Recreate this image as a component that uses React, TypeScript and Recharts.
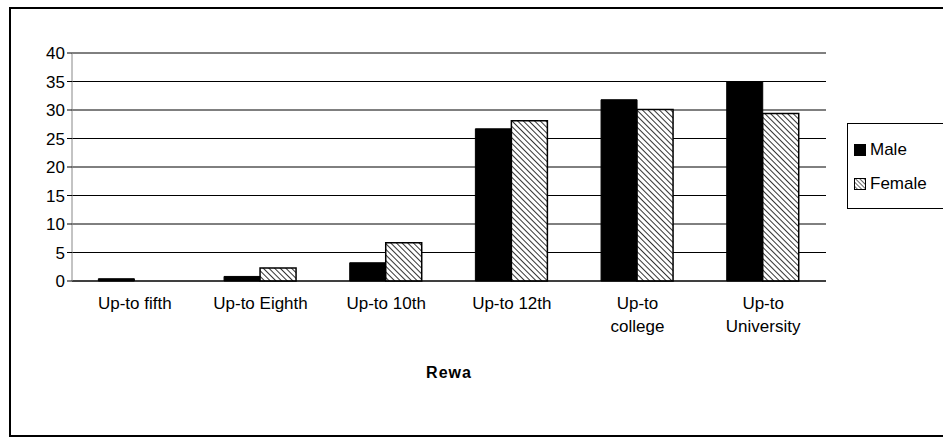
import React from "react";
import { BarChart, Bar, XAxis, YAxis, CartesianGrid } from "recharts";

const categories = ["Up-to fifth", "Up-to Eighth", "Up-to 10th", "Up-to 12th", "Up-to college", "Up-to University"];
const male = [0.4, 0.8, 3.2, 26.7, 31.8, 35.0];
const female = [0, 2.3, 6.7, 28.1, 30.1, 29.4];
const yTicks = [0, 5, 10, 15, 20, 25, 30, 35, 40];
const seriesNames = ["Male", "Female"];
const tickLines: Record<string, string[]> = {
  "Up-to college": ["Up-to", "college"],
  "Up-to University": ["Up-to", "University"],
};

const data = categories.map((c, i) => ({ name: c, Male: male[i], Female: female[i] }));
const FONT = "'Liberation Sans', Arial, sans-serif";

const XTick = (props: any) => {
  const { x, y, payload } = props;
  const lines = tickLines[payload.value] || [payload.value];
  return (
    <text x={x} y={y + 8} textAnchor="middle" fontFamily={FONT} fontSize={17} fill="#000">
      {lines.map((l, i) => (
        <tspan key={i} x={x} dy={i === 0 ? 12 : 23}>{l}</tspan>
      ))}
    </text>
  );
};

export default function App() {
  return (
    <div style={{ position: "absolute", left: 0, top: 0, width: 943, height: 446, background: "#fff" }}>
      <div style={{ position: "absolute", left: 9, top: 7, width: 940, height: 430, border: "2px solid #000", boxSizing: "border-box" }} />
      <BarChart width={943} height={446} data={data} margin={{ top: 53, right: 117, left: 0, bottom: 0 }} barCategoryGap="21%" barGap={0}>
        <defs>
          <pattern id="hatch" width={4} height={4} patternUnits="userSpaceOnUse" patternTransform="rotate(-45)">
            <rect width={4} height={4} fill="#fff" />
            <line x1={0} y1={0} x2={0} y2={4} stroke="#000" strokeWidth={1.6} />
          </pattern>
        </defs>
        <CartesianGrid vertical={false} stroke="#000" strokeWidth={1} />
        <XAxis dataKey="name" height={165} tick={<XTick />} axisLine={{ stroke: "#000" }} tickLine={false} interval={0} />
        <YAxis width={72} domain={[0, 40]} ticks={yTicks} tick={{ fontFamily: FONT, fontSize: 17, fill: "#000" }} axisLine={{ stroke: "#888" }} tickLine={{ stroke: "#000" }} tickSize={5} interval={0} />
        <Bar dataKey="Male" fill="#000" stroke="#000" isAnimationActive={false} />
        <Bar dataKey="Female" fill="url(#hatch)" stroke="#000" strokeWidth={1.5} isAnimationActive={false} />
      </BarChart>
      <div style={{ position: "absolute", left: 847, top: 123, width: 100, height: 86, border: "1px solid #000", background: "#fff", boxSizing: "border-box", padding: "16px 0 0 6px", fontFamily: FONT, fontSize: 17 }}>
        {seriesNames.map((n, i) => (
          <div key={n} style={{ display: "flex", alignItems: "center", marginBottom: 14 }}>
            <svg width={12} height={12} style={{ marginRight: 4 }}>
              <defs>
                <pattern id={"lh" + i} width={3} height={3} patternUnits="userSpaceOnUse" patternTransform="rotate(-45)">
                  <rect width={3} height={3} fill="#fff" />
                  <line x1={0} y1={0} x2={0} y2={3} stroke="#000" strokeWidth={1.2} />
                </pattern>
              </defs>
              {i === 0 ? <rect x={0} y={0} width={12} height={12} fill="#000" /> : <rect x={0.5} y={0.5} width={11} height={11} fill={"url(#lh" + i + ")"} stroke="#000" />}
            </svg>
            {n}
          </div>
        ))}
      </div>
      <div style={{ position: "absolute", left: 0, width: 898, top: 364, textAlign: "center", fontFamily: FONT, fontSize: 16, fontWeight: "bold", letterSpacing: 1 }}>Rewa</div>
    </div>
  );
}
